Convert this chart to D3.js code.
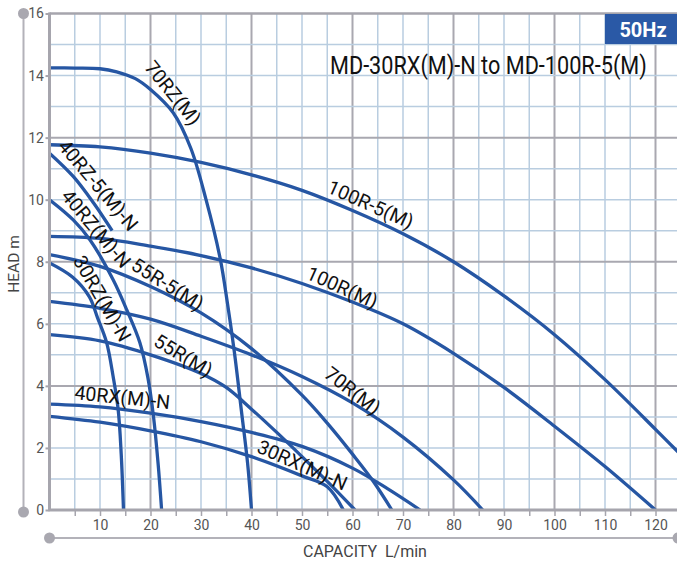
<!DOCTYPE html>
<html>
<head>
<meta charset="utf-8">
<script src="https://cdn.jsdelivr.net/npm/d3@7"></script>
<style>
  html, body { margin: 0; padding: 0; background: #ffffff; }
  svg { display: block; font-family: Roboto, "Noto Sans", sans-serif; }
</style>
</head>
<body>
<script>
// ---------- data ----------
const xTicks = [10, 20, 30, 40, 50, 60, 70, 80, 90, 100, 110, 120];
const yTicks = [0, 2, 4, 6, 8, 10, 12, 14, 16];
const titleText = "MD-30RX(M)-N to MD-100R-5(M)";
const freqText = "50Hz";
const xTitle = "CAPACITY  L/min";
const yTitle = "HEAD m";

const seriesNames = ["70RZ(M)", "100R-5(M)", "40RZ-5(M)-N", "40RZ(M)-N", "100R(M)", "55R-5(M)",
                     "30RZ(M)-N", "70R(M)", "55R(M)", "40RX(M)-N", "30RX(M)-N"];

const q70RZ = [0, 5, 10, 13.3, 17, 20, 24.5, 28, 31, 33.8, 35.2, 36.6, 38, 39.2, 40];
const h70RZ = [14.25, 14.24, 14.22, 14.12, 13.9, 13.55, 12.8, 11.65, 10.0, 8.1, 6.7, 5.1, 3.2, 1.55, 0];

const q100R5 = [0, 10, 20, 30, 40, 50, 60, 70, 80, 90, 100, 110, 120, 127];
const h100R5 = [11.77, 11.7, 11.5, 11.2, 10.8, 10.3, 9.65, 8.9, 8.0, 6.9, 5.65, 4.2, 2.6, 1.45];

const q40RZ5 = [0, 4.7, 8.7, 12.4];
const h40RZ5 = [11.5, 10.75, 9.9, 9.0];

const q40RZ = [0, 4.7, 8, 12.6, 15.3, 17.9, 19.5, 20.6, 21.5, 22.2];
const h40RZ = [10.0, 9.35, 8.71, 7.42, 6.45, 5.39, 4.25, 3.0, 1.5, 0];

const q100R = [0, 10, 20, 30, 40, 50, 60, 70, 80, 90, 100, 110, 120];
const h100R = [8.82, 8.75, 8.5, 8.2, 7.8, 7.3, 6.7, 6.0, 5.05, 3.95, 2.7, 1.4, 0];

const q55R5 = [0, 10, 20, 30, 40, 50, 55, 60, 64, 67.8];
const h55R5 = [8.23, 7.85, 7.2, 6.35, 5.2, 3.7, 2.8, 1.8, 0.95, 0];

const q30RZ = [0, 4.6, 7.9, 9.5, 11.3, 12.6, 13.6, 14.2, 14.65];
const h30RZ = [7.96, 7.5, 6.87, 6.2, 5.4, 4.3, 3.23, 1.8, 0];

const q70R = [0, 10, 20, 30, 40, 50, 60, 70, 80, 85.8];
const h70R = [6.72, 6.5, 6.15, 5.6, 5.0, 4.3, 3.45, 2.35, 0.97, 0];

const q55R = [0, 10, 20, 30, 35, 40, 45, 50, 55, 60.5];
const h55R = [5.65, 5.45, 5.0, 4.4, 3.95, 3.25, 2.5, 1.72, 0.92, 0];

const q40RX = [0, 10, 20, 30, 40, 50, 60, 67, 73.4];
const h40RX = [3.41, 3.32, 3.12, 2.85, 2.5, 2.05, 1.35, 0.68, 0];

const q30RX = [0, 10, 20, 30, 40, 50, 55, 58.2];
const h30RX = [3.02, 2.83, 2.55, 2.2, 1.72, 1.1, 0.75, 0];

const seriesQ = [q70RZ, q100R5, q40RZ5, q40RZ, q100R, q55R5, q30RZ, q70R, q55R, q40RX, q30RX];
const seriesH = [h70RZ, h100R5, h40RZ5, h40RZ, h100R, h55R5, h30RZ, h70R, h55R, h40RX, h30RX];

// label placement (data units) and rotation, one per series
const labelQ = [24.3, 63.5, 9.5, 9.1, 57.9, 23.3, 10.3, 59.9, 26.4, 14.4, 50.0];
const labelH = [13.42, 9.82, 10.45, 9.05, 7.15, 7.25, 6.8, 3.82, 4.95, 3.6, 1.42];
const labelA = [51, 24, 50, 50, 24, 32, 60, 38, 31, 6, 24];

// ---------- drawing ----------
const W = 677, H = 562;
const svg = d3.select("body").append("svg").attr("width", W).attr("height", H);

const x = d3.scaleLinear().domain([0, 120]).range([49.5, 655.5]);
const y = d3.scaleLinear().domain([0, 16]).range([510, 13.5]);
const plotL = x(0), plotR = W, plotT = y(16), plotB = y(0);

const minorCol = "#b9cde0", majorCol = "#a9a8b0", axisCol = "#a6a5ad", curveCol = "#2656a3";

svg.append("defs").append("clipPath").attr("id", "plotclip")
  .append("rect").attr("x", plotL).attr("y", plotT).attr("width", plotR - plotL).attr("height", plotB - plotT);

// grid
const grid = svg.append("g");
const vlines = d3.range(5, 125, 5).filter(v => x(v) < W);
grid.selectAll("line.v").data(vlines).join("line")
  .attr("x1", d => x(d)).attr("x2", d => x(d)).attr("y1", plotT).attr("y2", plotB)
  .attr("stroke", d => d % 20 === 0 ? majorCol : minorCol)
  .attr("stroke-width", d => d % 20 === 0 ? 2 : 1.5);
const hlines = d3.range(1, 16, 1);
grid.selectAll("line.h").data(hlines).join("line")
  .attr("x1", plotL).attr("x2", plotR).attr("y1", d => y(d)).attr("y2", d => y(d))
  .attr("stroke", d => d % 4 === 0 ? majorCol : minorCol)
  .attr("stroke-width", d => d % 4 === 0 ? 2 : 1.5);

// curves
const line = d3.line().x(d => x(d[0])).y(d => y(d[1])).curve(d3.curveCatmullRom.alpha(0.5));
const curves = svg.append("g").attr("clip-path", "url(#plotclip)");
seriesNames.forEach((name, i) => {
  const pts = seriesQ[i].map((q, k) => [q, seriesH[i][k]]);
  curves.append("path").datum(pts).attr("d", line)
    .attr("fill", "none").attr("stroke", curveCol).attr("stroke-width", 3.3)
    .attr("stroke-linejoin", "round").attr("stroke-linecap", "butt");
});

// frame
svg.append("line").attr("x1", plotL).attr("x2", plotR).attr("y1", plotT).attr("y2", plotT)
  .attr("stroke", axisCol).attr("stroke-width", 2.5);
svg.append("line").attr("x1", plotL).attr("x2", plotL).attr("y1", plotT - 1).attr("y2", plotB)
  .attr("stroke", axisCol).attr("stroke-width", 3);

// axes
const xAxis = d3.axisBottom(x).tickValues(d3.range(5, 125, 5))
  .tickFormat(d => d % 10 === 0 ? d : "").tickSize(6).tickPadding(4);
const gx = svg.append("g").attr("transform", `translate(0,${plotB})`).call(xAxis);
gx.select(".domain").remove();
gx.selectAll(".tick line").attr("stroke", axisCol).attr("stroke-width", 1.5);
gx.selectAll(".tick text").attr("fill", "#555").attr("font-size", 14).attr("font-family", "Roboto");
svg.append("line").attr("x1", plotL - 1).attr("x2", plotR).attr("y1", plotB).attr("y2", plotB)
  .attr("stroke", axisCol).attr("stroke-width", 3);

const yAxis = d3.axisLeft(y).tickValues(yTicks).tickSize(4).tickPadding(1.5);
const gy = svg.append("g").attr("transform", `translate(${plotL},0)`).call(yAxis);
gy.select(".domain").remove();
gy.selectAll(".tick line").attr("stroke", axisCol).attr("stroke-width", 2);
gy.selectAll(".tick text").attr("fill", "#555").attr("font-size", 14).attr("font-family", "Roboto");

// curve labels
const labels = svg.append("g");
seriesNames.forEach((name, i) => {
  labels.append("text")
    .attr("transform", `translate(${x(labelQ[i])},${y(labelH[i])}) rotate(${labelA[i]})`)
    .attr("text-anchor", "middle").attr("dy", "0.3em")
    .attr("font-size", 19.5).attr("fill", "#111")
    .text(name);
});

// decorative axis rails
const railCol = "#b3b2b9";
svg.append("line").attr("x1", 23.5).attr("x2", 23.5).attr("y1", plotT).attr("y2", 512)
  .attr("stroke", railCol).attr("stroke-width", 2);
svg.append("circle").attr("cx", 23.5).attr("cy", plotT).attr("r", 5.5).attr("fill", "#a9a8b0");
svg.append("circle").attr("cx", 23.5).attr("cy", 512).attr("r", 5.5).attr("fill", "#a9a8b0");
svg.append("line").attr("x1", plotL).attr("x2", W).attr("y1", 538).attr("y2", 538)
  .attr("stroke", railCol).attr("stroke-width", 2);
svg.append("circle").attr("cx", plotL).attr("cy", 538).attr("r", 5.5).attr("fill", "#a9a8b0");
svg.append("circle").attr("cx", W + 1).attr("cy", 538).attr("r", 5.5).attr("fill", "#a9a8b0");

// axis titles
svg.append("text").attr("x", 303).attr("y", 557).attr("font-size", 16).attr("fill", "#444")
  .style("white-space", "pre").text(xTitle);
svg.append("text").attr("transform", "translate(19,264) rotate(-90)").attr("text-anchor", "middle")
  .attr("font-size", 15.5).attr("fill", "#444").text(yTitle);

// 50Hz box
svg.append("rect").attr("x", 605).attr("y", plotT + 0.5).attr("width", W - 605).attr("height", 30)
  .attr("fill", "#2a59a6");
svg.append("text").attr("x", 643).attr("y", 36.5).attr("text-anchor", "middle")
  .attr("font-size", 20).attr("font-weight", "bold").attr("fill", "#ffffff").text(freqText);

// title (condensed look via horizontal scaling)
svg.append("text").attr("transform", "translate(330,74) scale(0.85,1)")
  .attr("font-size", 25.5).attr("fill", "#111").text(titleText);
</script>
</body>
</html>
